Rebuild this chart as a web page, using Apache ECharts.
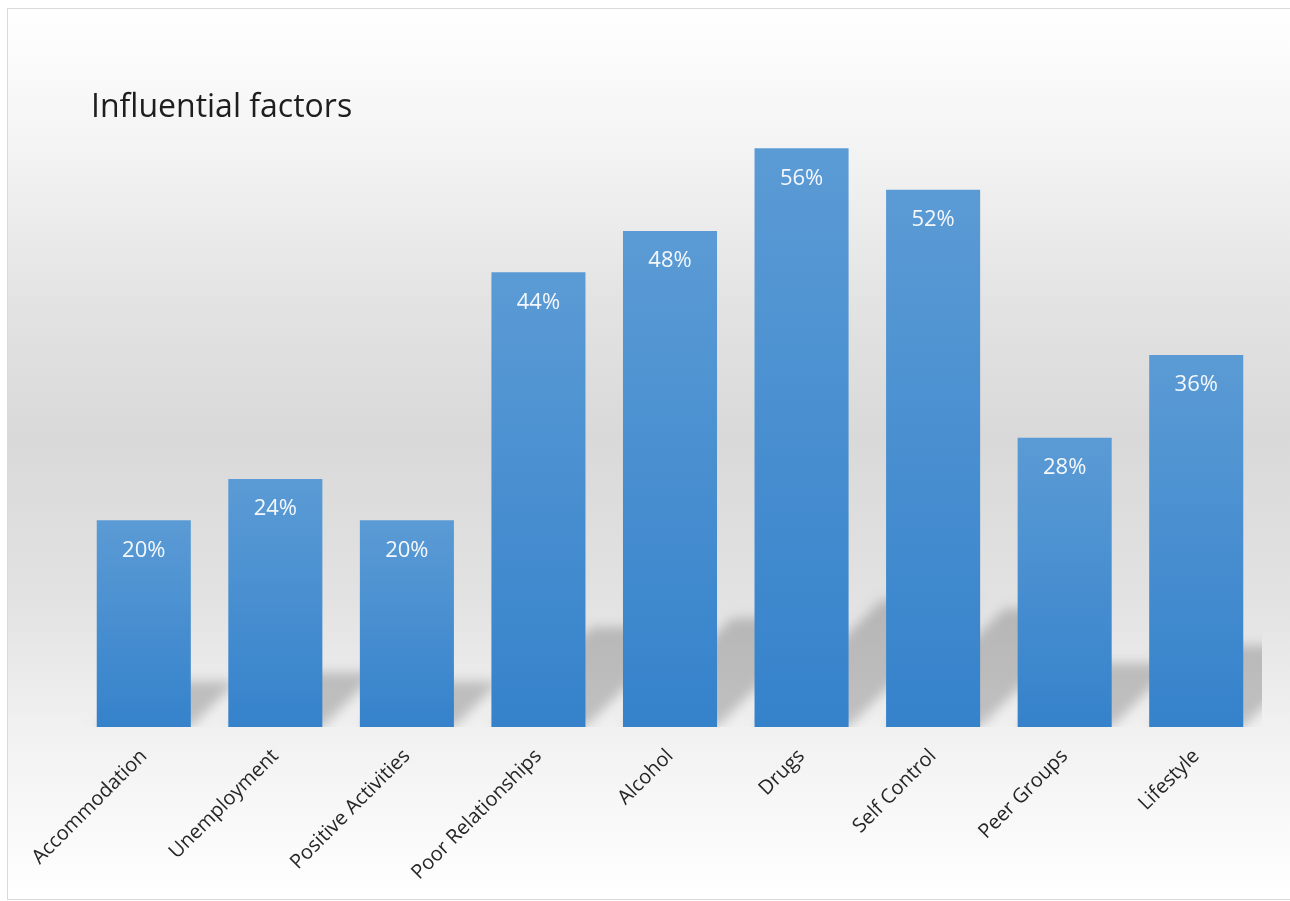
<!DOCTYPE html>
<html>
<head>
<meta charset="utf-8">
<script src="https://cdn.jsdelivr.net/npm/echarts@6/dist/echarts.min.js"></script>
<style>
  html, body { margin: 0; padding: 0; background: #fff; }
  #chart { width: 1290px; height: 901px; }
</style>
</head>
<body>
<div id="chart"></div>
<script>
const categories = ['Accommodation', 'Unemployment', 'Positive Activities', 'Poor Relationships', 'Alcohol', 'Drugs', 'Self Control', 'Peer Groups', 'Lifestyle'];
const values = [20, 24, 20, 44, 48, 56, 52, 28, 36];
const titleText = 'Influential factors';

const GAP = 0.285; // barCategoryGap
const OFF = 3000;  // draw shadow shape off-canvas, only its blur shows

const chart = echarts.init(document.getElementById('chart'));

// soft perspective shadow behind each bar
function shadowItem(params, api) {
  const i = api.value(0), v = api.value(1);
  const base = api.coord([i, 0]);
  const top = api.coord([i, v]);
  const w = api.size([1, 0])[0] * (1 - GAP);
  const d = (base[1] - top[1]) * 0.22;
  const xl = base[0] - w / 2 - OFF, xr = base[0] + w / 2 - OFF, y = base[1];
  return {
    type: 'polygon',
    shape: { points: [[xl, y], [xr, y], [xr + d, y - d], [xl + d, y - d]] },
    style: {
      fill: '#000', shadowBlur: 12, shadowOffsetX: OFF,
      shadowColor: 'rgba(0,0,0,0.2)'
    }
  };
}

chart.setOption({
  animation: false,
  graphic: [{
    type: 'rect', z: -10, silent: true,
    shape: { x: 7.5, y: 8.5, width: 1300, height: 891 },
    style: {
      stroke: '#d9d9d9', lineWidth: 1,
      fill: new echarts.graphic.LinearGradient(0, 0, 0, 1, [
        { offset: 0, color: '#ffffff' },
        { offset: 0.15, color: '#f4f4f4' },
        { offset: 0.33, color: '#e3e3e3' },
        { offset: 0.48, color: '#d9d9d9' },
        { offset: 0.66, color: '#e2e2e2' },
        { offset: 0.81, color: '#f1f1f1' },
        { offset: 1, color: '#ffffff' }
      ])
    }
  }],
  title: {
    text: titleText, left: 86, top: 87,
    textStyle: { fontFamily: 'Open Sans', fontSize: 32, fontWeight: 'normal', color: '#1e1e1e' }
  },
  grid: { left: 78, right: 28, top: 107, bottom: 174 },
  xAxis: {
    type: 'category', data: categories,
    axisLine: { show: false }, axisTick: { show: false },
    axisLabel: { rotate: 45, margin: 26, interval: 0, fontFamily: 'Open Sans', fontSize: 20, color: '#262626' }
  },
  yAxis: { type: 'value', min: 0, max: 60, show: false, splitLine: { show: false } },
  series: [
    {
      type: 'custom', renderItem: shadowItem, clip: true, z: 1, silent: true,
      data: values.map((v, i) => [i, v])
    },
    {
      type: 'bar', data: values, barCategoryGap: (GAP * 100) + '%', z: 3,
      itemStyle: {
        color: new echarts.graphic.LinearGradient(0, 0, 0, 1, [
          { offset: 0, color: '#5b9bd5' },
          { offset: 1, color: '#3582cb' }
        ])
      },
      label: {
        show: true, position: 'insideTop', distance: 19,
        formatter: p => p.value + '%',
        fontFamily: 'Open Sans', fontSize: 22, color: '#f4f8fc'
      }
    }
  ]
});
</script>
</body>
</html>
